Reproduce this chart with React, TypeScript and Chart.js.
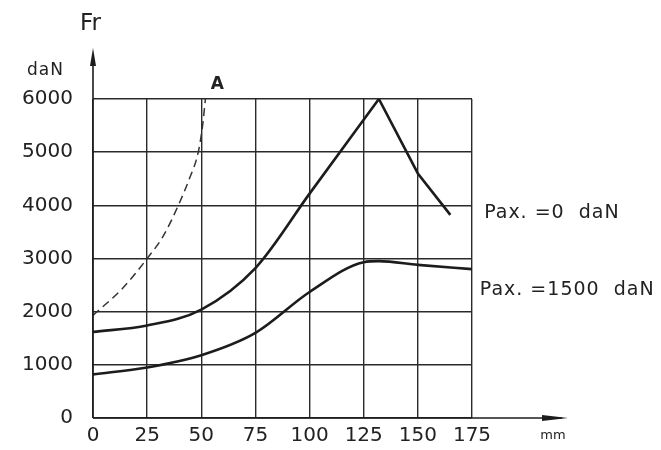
import React, { useEffect, useRef } from "react";
import { Chart, registerables } from "chart.js";

Chart.register(...registerables);

// Stroke (mm) vs. radial force Fr (daN)
const xTicks = [0, 25, 50, 75, 100, 125, 150, 175];
const yTicks = [0, 1000, 2000, 3000, 4000, 5000, 6000];

// Pax = 0 daN: smooth rising part, then straight falling part after the peak
const pax0RiseX = [0, 25, 50, 75, 100, 132];
const pax0RiseY = [1620, 1740, 2040, 2820, 4220, 6000];
const pax0FallX = [132, 150, 165];
const pax0FallY = [6000, 4600, 3820];

const pax1500X = [0, 25, 50, 75, 100, 125, 132, 150, 175];
const pax1500Y = [820, 950, 1180, 1600, 2370, 2930, 2950, 2880, 2800];

const limitX = [0, 13.9, 25, 32.4, 39.4, 44.5, 48.6, 50.6, 51.9];
const limitY = [1930, 2450, 3000, 3420, 4000, 4500, 5000, 5500, 6000];

const labelPax0 = "Pax. =0  daN";
const labelPax1500 = "Pax. =1500  daN";
const labelA = "A";
const yTitle = "Fr";
const yUnit = "daN";
const xUnit = "mm";

const toPts = (xs: number[], ys: number[]) => xs.map((x, i) => ({ x, y: ys[i] }));

const INK = "#1c1c1c";
const FONT = "'DejaVu Sans', sans-serif";

const annotate = {
  id: "annotate",
  afterDraw(chart: any) {
    const { ctx, chartArea, scales } = chart;
    const xs = scales.x;
    const ys = scales.y;
    const L = chartArea.left;
    const B = chartArea.bottom;
    ctx.save();
    ctx.strokeStyle = INK;
    ctx.fillStyle = INK;
    ctx.lineWidth = 1.6;
    // y axis with arrow
    ctx.beginPath();
    ctx.moveTo(L, B);
    ctx.lineTo(L, chartArea.top - 45);
    ctx.stroke();
    ctx.beginPath();
    ctx.moveTo(L, chartArea.top - 51);
    ctx.lineTo(L - 3, chartArea.top - 33);
    ctx.lineTo(L + 3, chartArea.top - 33);
    ctx.closePath();
    ctx.fill();
    // x axis with arrow
    ctx.beginPath();
    ctx.moveTo(L, B);
    ctx.lineTo(chartArea.right + 90, B);
    ctx.stroke();
    ctx.beginPath();
    ctx.moveTo(chartArea.right + 96, B);
    ctx.lineTo(chartArea.right + 70, B - 3);
    ctx.lineTo(chartArea.right + 70, B + 3);
    ctx.closePath();
    ctx.fill();

    ctx.fillStyle = "#222";
    ctx.textBaseline = "middle";
    // axis titles
    ctx.font = `23px ${FONT}`;
    ctx.textAlign = "left";
    ctx.fillText(yTitle, L - 13, chartArea.top - 75);
    ctx.font = `17px ${FONT}`;
    (ctx as any).letterSpacing = "1px";
    ctx.textAlign = "right";
    ctx.fillText(yUnit, L - 29, chartArea.top - 28);
    ctx.font = `13px ${FONT}`;
    (ctx as any).letterSpacing = "0px";
    ctx.textAlign = "center";
    ctx.fillText(xUnit, chartArea.right + 81, B + 18);

    // "A" near dashed limit curve
    ctx.font = `bold 17px ${FONT}`;
    ctx.textAlign = "center";
    ctx.fillText(labelA, xs.getPixelForValue(57.4), ys.getPixelForValue(6280));

    // series labels
    ctx.font = `19px ${FONT}`;
    (ctx as any).letterSpacing = "1px";
    ctx.textAlign = "left";
    ctx.fillText(labelPax0, xs.getPixelForValue(180.6), ys.getPixelForValue(3860));
    ctx.fillText(labelPax1500, xs.getPixelForValue(178.6), ys.getPixelForValue(2400));
    ctx.restore();
  },
};

export default function App() {
  const ref = useRef<HTMLCanvasElement>(null);
  useEffect(() => {
    if (!ref.current) return;
    const solid = { showLine: true, borderColor: INK, borderWidth: 2.6, pointRadius: 0 };
    const chart = new Chart(ref.current, {
      type: "scatter",
      data: {
        datasets: [
          { ...solid, label: labelPax0, data: toPts(pax0RiseX, pax0RiseY), cubicInterpolationMode: "monotone" },
          { ...solid, label: labelPax0, data: toPts(pax0FallX, pax0FallY), tension: 0 },
          { ...solid, label: labelPax1500, data: toPts(pax1500X, pax1500Y), cubicInterpolationMode: "monotone" },
          {
            label: "A",
            data: toPts(limitX, limitY),
            showLine: true,
            borderColor: "#333",
            borderWidth: 1.5,
            borderDash: [8, 5],
            pointRadius: 0,
            cubicInterpolationMode: "monotone",
          },
        ],
      },
      options: {
        responsive: false,
        animation: false,
        layout: { padding: { top: 99, right: 189, left: 0, bottom: 0 } },
        plugins: { legend: { display: false }, tooltip: { enabled: false } },
        scales: {
          x: {
            type: "linear",
            min: 0,
            max: 175,
            afterBuildTicks: (s: any) => {
              s.ticks = xTicks.map((v) => ({ value: v }));
            },
            afterFit: (s: any) => {
              s.height = 28;
            },
            grid: { color: "#2a2a2a", lineWidth: 1.4, drawTicks: false },
            border: { display: false },
            ticks: {
              color: "#222",
              font: { family: FONT, size: 20 },
              padding: 6,
              maxRotation: 0,
              callback: (v: any) => String(v),
            },
          },
          y: {
            type: "linear",
            min: 0,
            max: 6000,
            afterBuildTicks: (s: any) => {
              s.ticks = yTicks.map((v) => ({ value: v }));
            },
            afterFit: (s: any) => {
              s.width = 93;
            },
            grid: { color: "#2a2a2a", lineWidth: 1.4, drawTicks: false },
            border: { display: false },
            ticks: {
              color: "#222",
              font: { family: FONT, size: 20 },
              padding: 20,
              callback: (v: any) => String(v),
            },
          },
        },
      },
      plugins: [annotate],
    });
    return () => chart.destroy();
  }, []);
  return (
    <div style={{ position: "fixed", left: 0, top: 0, width: 661, height: 450, background: "#fff" }}>
      <canvas ref={ref} width={661} height={450} style={{ display: "block" }} />
    </div>
  );
}
